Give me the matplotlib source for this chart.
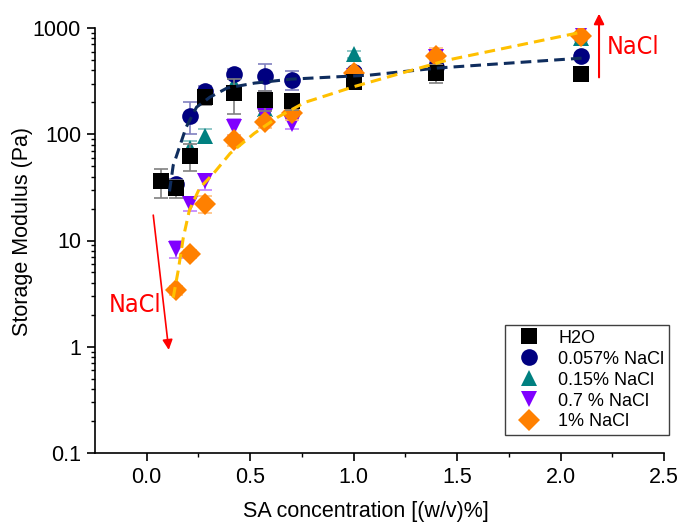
import matplotlib
matplotlib.use("Agg")
import matplotlib.pyplot as plt
from matplotlib.ticker import FixedLocator, LogLocator, NullFormatter, FixedFormatter

plt.rcParams["font.family"] = ["Liberation Sans", "DejaVu Sans"]

# SA concentration (w/v %)
x_h2o = [0.07, 0.14, 0.21, 0.28, 0.42, 0.57, 0.70, 1.0, 1.4, 2.1]
x_salt = [0.14, 0.21, 0.28, 0.42, 0.57, 0.70, 1.0, 1.4, 2.1]

# storage modulus (Pa) and error bars
g_h2o = [36, 31, 63, 222, 244, 212, 205, 312, 376, 372]
err_h2o = [11, 6, 18, 35, 90, 45, 35, 25, 70, 10]
g_0057 = [34, 150, 256, 372, 355, 325, 385, 430, 550]
err_0057 = [4, 50, 30, 40, 100, 65, 30, 40, 30]
g_015 = [32, 75, 97, 300, 172, 205, 565, 450, 800]
err_015 = [5, 12, 15, 40, 25, 20, 40, 40, 40]
g_07 = [8.3, 22, 36, 118, 150, 126, 350, 530, 920]
err_07 = [1.5, 3, 6, 20, 20, 15, 30, 50, 150]
g_1 = [3.4, 7.5, 22, 88, 130, 157, 375, 550, 840]
err_1 = [0.3, 0.6, 4, 10, 15, 20, 30, 100, 50]

# fitted curves
fit_h2o_x = [0.11, 0.128, 0.142, 0.19, 0.241, 0.305, 0.388, 0.521, 0.697, 1.076, 1.405, 2.107]
fit_h2o_y = [29, 51, 61, 116, 180, 223, 272, 303, 330, 360, 420, 521]
fit_1_x = [0.128, 0.152, 0.177, 0.206, 0.255, 0.324, 0.403, 0.52, 0.634, 0.766, 0.879, 1.0, 1.454, 2.085]
fit_1_y = [2.9, 5.2, 10.7, 19.2, 31, 43, 66, 102, 145, 200, 235, 280, 499, 900]

series = [
    ("0.15% NaCl", x_salt, g_015, err_015, "^", "#008080", "#7fbfbf", 2),
    ("0.7 % NaCl", x_salt, g_07, err_07, "v", "#8000ff", "#c080ff", 3),
    ("0.057% NaCl", x_salt, g_0057, err_0057, "o", "#000080", "#8080c0", 4),
    ("1% NaCl", x_salt, g_1, err_1, "D", "#ff8000", "#ffc080", 5),
    ("H2O", x_h2o, g_h2o, err_h2o, "s", "#000000", "#808080", 6),
]

fig = plt.figure(figsize=(6.84, 5.26), dpi=100)
ax = fig.add_axes([95 / 684, 73 / 526, 569 / 684, 425 / 526])

handles = {}
for name, xs, ys, es, mk, col, ecol, z in series:
    ax.errorbar(xs, ys, yerr=es, fmt="none", ecolor=ecol, elinewidth=1.2,
                capsize=5, capthick=1.2, zorder=z)
    size = 11 if mk == "D" else 12
    if mk == "s":
        size = 11.5
    h, = ax.plot(xs, ys, linestyle="none", marker=mk, markersize=size,
                 color=col, markeredgewidth=0, zorder=z + 0.5, label=name)
    handles[name] = h

ax.plot(fit_h2o_x, fit_h2o_y, color="#0f2d5e", lw=2.2, ls=(0, (3.5, 2)), zorder=10)
ax.plot(fit_1_x, fit_1_y, color="#ffc000", lw=2.2, ls=(0, (3.5, 2)), zorder=10)

# NaCl arrows
ax.annotate("", xy=(0.108, 0.88), xytext=(0.03, 18.4),
            arrowprops=dict(arrowstyle="-|>", color="red", lw=1.2, mutation_scale=15),
            annotation_clip=False)
ax.annotate("", xy=(2.186, 1450), xytext=(2.186, 323),
            arrowprops=dict(arrowstyle="-|>", color="red", lw=1.5, mutation_scale=15),
            annotation_clip=False)
ax.text(-0.055, 2.45, "NaCl", color="red", fontsize=18, ha="center", va="center",
        family="DejaVu Sans", fontstretch="condensed")
ax.text(2.35, 660, "NaCl", color="red", fontsize=18, ha="center", va="center",
        family="DejaVu Sans", fontstretch="condensed")

ax.set_yscale("log")
ax.set_xlim(-0.25, 2.5)
ax.set_ylim(0.1, 1000)
ax.spines["top"].set_visible(False)
ax.spines["right"].set_visible(False)
ax.spines["left"].set_linewidth(1.2)
ax.spines["bottom"].set_linewidth(1.2)

ax.xaxis.set_major_locator(FixedLocator([0, 0.5, 1.0, 1.5, 2.0, 2.5]))
ax.xaxis.set_major_formatter(FixedFormatter(["0.0", "0.5", "1.0", "1.5", "2.0", "2.5"]))
ax.xaxis.set_minor_locator(FixedLocator([0.25, 0.75, 1.25, 1.75, 2.25]))
ax.yaxis.set_major_locator(FixedLocator([0.1, 1, 10, 100, 1000]))
ax.yaxis.set_major_formatter(FixedFormatter(["0.1", "1", "10", "100", "1000"]))
ax.yaxis.set_minor_locator(LogLocator(base=10, subs=range(2, 10)))
ax.yaxis.set_minor_formatter(NullFormatter())
ax.tick_params(which="major", direction="out", length=6, width=1.2, labelsize=15.5, pad=4)
ax.tick_params(which="minor", direction="out", length=3, width=1)

ax.set_xlabel("SA concentration [(w/v)%]", fontsize=15.5)
ax.set_ylabel("Storage Modulus (Pa)", fontsize=15.5)
ax.xaxis.set_label_coords((366 - 95) / 569, -(501 - 453) / 425)
ax.yaxis.set_label_coords(-(95 - 33) / 569, (453 - 232) / 425)

order = ["H2O", "0.057% NaCl", "0.15% NaCl", "0.7 % NaCl", "1% NaCl"]
leg = ax.legend([handles[n] for n in order], order, loc="lower left",
                bbox_to_anchor=(505 / 684, 91 / 526), bbox_transform=fig.transFigure,
                fontsize=13, fancybox=False, edgecolor="#404040", framealpha=1,
                labelspacing=0.22, handletextpad=0.5, borderpad=0.25, borderaxespad=0,
                handlelength=2.2, markerscale=1.0)
leg.get_frame().set_linewidth(1.0)
leg.set_zorder(20)

fig.savefig("out.png", dpi=100)
